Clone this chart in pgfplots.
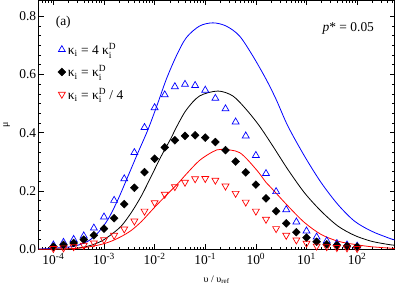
\documentclass[border=0pt]{standalone}
\usepackage{fontspec}
\setmainfont{Liberation Serif}
\usepackage{pgfplots}
\pgfplotsset{compat=1.18}
\newcommand{\fs}{\fontsize{13.5}{15}\selectfont}
\newcommand{\fl}{\fontsize{15}{17}\selectfont}
\begin{document}
\begin{tikzpicture}
\begin{axis}[
  scale only axis, width=356bp, height=249bp,
  xmode=log, xmin=5.13e-5, xmax=550, ymin=0, ymax=0.854,
  xtick={1e-4,1e-3,1e-2,1e-1,1,10,100},
  xticklabels={10\textsuperscript{-4},10\textsuperscript{-3},10\textsuperscript{-2},10\textsuperscript{-1},10\textsuperscript{0},10\textsuperscript{1},10\textsuperscript{2}},
  minor xtick={6e-5,7e-5,8e-5,9e-5,2e-4,3e-4,4e-4,5e-4,6e-4,7e-4,8e-4,9e-4,2e-3,3e-3,4e-3,5e-3,6e-3,7e-3,8e-3,9e-3,2e-2,3e-2,4e-2,5e-2,6e-2,7e-2,8e-2,9e-2,0.2,0.3,0.4,0.5,0.6,0.7,0.8,0.9,2,3,4,5,6,7,8,9,20,30,40,50,60,70,80,90,200,300,400,500},
  ytick={0,0.2,0.4,0.6,0.8}, yticklabels={0.0,0.2,0.4,0.6,0.8},
  minor y tick num=5,
  tick align=inside, major tick length=5bp, minor tick length=2.5bp,
  tick style={black, line width=0.6bp},
  axis line style={line width=0.8bp},
  ticklabel style={font=\fs},
  yticklabel style={xshift=1bp},
  xlabel={υ / υ\textsubscript{ref}}, ylabel={μ},
  label style={font=\fl},
  every axis x label/.style={at={(axis description cs:0.5,-0.133)}, anchor=base},
  every axis y label/.style={at={(axis description cs:-0.09,0.5)}, rotate=90, anchor=center},
  legend style={at={(axis description cs:0.045,0.845)}, anchor=north west, draw=none, fill=none, font=\fs, row sep=5.5bp},
  legend cell align=left,
]
% markers
\addplot[only marks, blue, mark=triangle, mark size=4bp, mark options={line width=0.7bp}] coordinates {
(1e-4,0.015)(1.585e-4,0.024)(2.512e-4,0.034)(3.981e-4,0.046)(6.31e-4,0.073)
(1e-3,0.111)(1.585e-3,0.168)(2.512e-3,0.242)(3.981e-3,0.332)(6.31e-3,0.418)
(1e-2,0.486)(1.585e-2,0.530)(2.512e-2,0.558)(3.981e-2,0.566)(6.31e-2,0.562)
(0.1,0.546)(0.1585,0.518)(0.2512,0.482)(0.3981,0.437)(0.631,0.389)
(1,0.322)(1.585,0.260)(2.512,0.198)(3.981,0.136)(6.31,0.094)
(10,0.063)(15.85,0.042)(25.12,0.029)(39.81,0.020)(63.1,0.015)(100,0.011)};
\addlegendentry{κ$_{\mathrm{i}}$ = 4 κ$_{\mathrm{i}}^{\mathrm{D}}$}
\addplot[only marks, black, mark=square*, mark size=2.8bp, mark options={rotate=45}] coordinates {
(1e-4,0.009)(1.585e-4,0.015)(2.512e-4,0.022)(3.981e-4,0.033)(6.31e-4,0.048)
(1e-3,0.071)(1.585e-3,0.107)(2.512e-3,0.155)(3.981e-3,0.211)(6.31e-3,0.265)
(1e-2,0.311)(1.585e-2,0.350)(2.512e-2,0.374)(3.981e-2,0.389)(6.31e-2,0.391)
(0.1,0.383)(0.1585,0.368)(0.2512,0.340)(0.3981,0.301)(0.631,0.264)
(1,0.222)(1.585,0.175)(2.512,0.131)(3.981,0.089)(6.31,0.059)
(10,0.040)(15.85,0.026)(25.12,0.017)(39.81,0.014)(63.1,0.011)(100,0.009)};
\addlegendentry{κ$_{\mathrm{i}}$ = κ$_{\mathrm{i}}^{\mathrm{D}}$}
\addplot[only marks, red, mark=triangle, mark size=4bp, mark options={rotate=180, line width=0.7bp}] coordinates {
(1e-4,0.003)(1.585e-4,0.005)(2.512e-4,0.009)(3.981e-4,0.014)(6.31e-4,0.022)
(1e-3,0.033)(1.585e-3,0.048)(2.512e-3,0.070)(3.981e-3,0.097)(6.31e-3,0.131)
(1e-2,0.160)(1.585e-2,0.189)(2.512e-2,0.215)(3.981e-2,0.230)(6.31e-2,0.242)
(0.1,0.243)(0.1585,0.237)(0.2512,0.217)(0.3981,0.192)(0.631,0.162)
(1,0.131)(1.585,0.103)(2.512,0.071)(3.981,0.048)(6.31,0.032)
(10,0.021)(15.85,0.011)(25.12,0.009)(39.81,0.006)(63.1,0.005)(100,0.003)};
\addlegendentry{κ$_{\mathrm{i}}$ = κ$_{\mathrm{i}}^{\mathrm{D}}$ / 4}
% curves
\addplot[blue, line width=0.8bp, smooth, forget plot] coordinates {
(5.13e-5,0.001)(9.14e-5,0.003)(1.439e-4,0.006)(2.63e-4,0.011)(4.84e-4,0.028)(7.62e-4,0.057)
(1.201e-3,0.103)(1.892e-3,0.171)(2.98e-3,0.251)(4.70e-3,0.332)(7.40e-3,0.411)(1.165e-2,0.503)
(1.698e-2,0.583)(2.676e-2,0.663)(4.217e-2,0.726)(7.71e-2,0.766)(0.1419,0.777)(0.2594,0.766)
(0.4753,0.732)(0.873,0.663)(1.598,0.583)(2.518,0.514)(4.285,0.423)(9.12,0.32)(19.45,0.229)
(41.6,0.154)(88.3,0.097)(188.8,0.063)(402.9,0.040)(550,0.032)};
\addplot[black, line width=0.8bp, smooth, forget plot] coordinates {
(5.13e-5,0.0)(2.265e-4,0.002)(4.84e-4,0.011)(8.86e-4,0.028)(1.395e-3,0.051)(2.198e-3,0.080)
(3.46e-3,0.126)(5.46e-3,0.183)(8.59e-3,0.251)(1.353e-2,0.32)(2.133e-2,0.383)(2.676e-2,0.418)
(4.217e-2,0.478)(7.71e-2,0.526)(0.1778,0.543)(0.3519,0.526)(0.644,0.48)(1.178,0.423)
(2.168,0.354)(4.285,0.274)(9.12,0.194)(19.45,0.131)(41.6,0.080)(88.3,0.048)(188.8,0.028)
(402.9,0.017)(550,0.014)};
\addplot[red, line width=0.8bp, smooth, forget plot] coordinates {
(5.13e-5,0.0)(2.265e-4,0.002)(4.84e-4,0.008)(8.86e-4,0.017)(1.395e-3,0.028)(2.198e-3,0.044)
(3.46e-3,0.065)(5.46e-3,0.095)(8.59e-3,0.132)(1.353e-2,0.168)(2.133e-2,0.203)(2.93e-2,0.227)
(4.217e-2,0.258)(7.71e-2,0.305)(0.1419,0.335)(0.2069,0.343)(0.4753,0.332)(1.014,0.274)
(1.598,0.229)(2.006,0.211)(4.285,0.149)(9.12,0.092)(19.45,0.051)(41.6,0.028)(88.3,0.017)
(188.8,0.009)(550,0.003)};
\node[font=\fs] at (axis description cs:0.069,0.912) {(a)};
\node[font=\fs] at (axis description cs:0.870,0.888) {\textit{p}* = 0.05};
\end{axis}
\end{tikzpicture}
\end{document}
